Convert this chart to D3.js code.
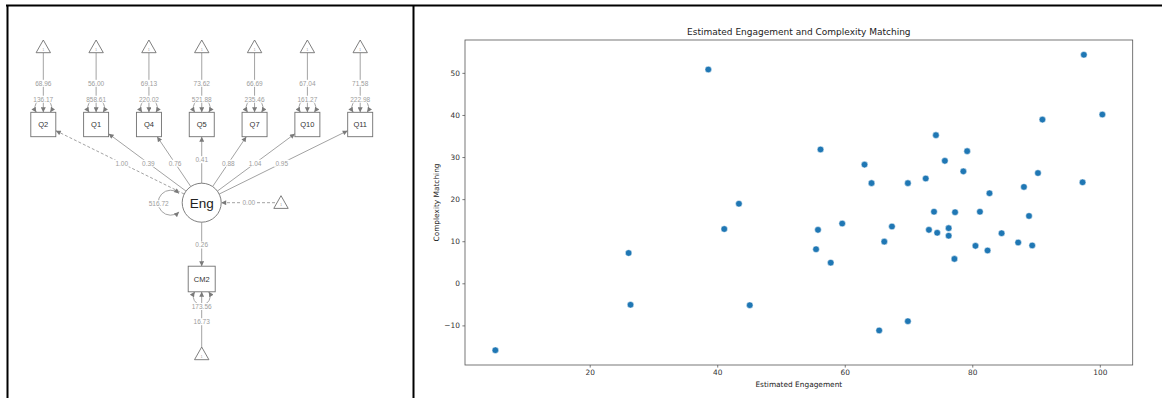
<!DOCTYPE html>
<html>
<head>
<meta charset="utf-8">
<script src="https://cdn.jsdelivr.net/npm/d3@7"></script>
<style>
  body { margin: 0; background: #fff; }
  svg { display: block; }
</style>
</head>
<body>
<div id="chart"></div>
<script>
// ---- path diagram values ----
var items = ["Q2", "Q1", "Q4", "Q5", "Q7", "Q10", "Q11"];
var intercepts = [68.96, 56.00, 69.13, 73.62, 66.69, 67.04, 71.58];
var residuals = [136.17, 858.61, 220.02, 521.88, 235.46, 161.27, 222.98];
var loadings = [1.00, 0.39, 0.76, 0.41, 0.88, 1.04, 0.95];
var engVariance = 516.72, engMean = 0.00, engToCM2 = 0.26;
var cm2Residual = 173.56, cm2Intercept = 16.73;

// ---- scatter values ----
var engagement = [5.2, 26.1, 26.4, 38.6, 41.1, 43.4, 45.1, 55.5, 55.8, 56.2, 57.8, 59.6, 63.1, 64.2, 65.4,
  66.2, 67.4, 69.9, 69.9, 72.7, 73.2, 74.0, 74.3, 74.5, 75.7, 76.3, 76.3, 77.2, 77.3, 78.6,
  79.2, 80.5, 81.2, 82.4, 82.7, 84.6, 87.2, 88.1, 88.9, 89.4, 90.3, 91.0, 97.3, 97.5, 100.4];
var complexity = [-15.9, 7.2, -5.1, 50.8, 12.9, 18.9, -5.2, 8.1, 12.7, 31.8, 4.9, 14.2, 28.2, 23.8, -11.2,
  9.9, 13.5, 23.8, -9.0, 24.9, 12.7, 17.0, 35.2, 12.0, 29.1, 13.1, 11.3, 5.8, 16.9, 26.6,
  31.4, 8.9, 17.0, 7.8, 21.4, 11.9, 9.7, 22.9, 16.0, 9.0, 26.2, 38.9, 24.0, 54.3, 40.1];
var xTicks = [20, 40, 60, 80, 100];
var yTicks = [-10, 0, 10, 20, 30, 40, 50];

var fmt = d3.format(".2f");
var edgeCol = "#a3a3a3", labelCol = "#9c9c9c", nodeCol = "#707070";

var svg = d3.select("#chart")
  .append("svg")
  .attr("width", 1162)
  .attr("height", 398);

svg.append("rect").attr("width", 1162).attr("height", 398).attr("fill", "#fff");

// frame of the two panels
svg.append("line").attr("x1", 6).attr("x2", 1162).attr("y1", 5.5).attr("y2", 5.5)
  .attr("stroke", "#000").attr("stroke-width", 2);
svg.append("line").attr("x1", 7.5).attr("x2", 7.5).attr("y1", 5).attr("y2", 398)
  .attr("stroke", "#000").attr("stroke-width", 2);
svg.append("line").attr("x1", 413.5).attr("x2", 413.5).attr("y1", 5).attr("y2", 398)
  .attr("stroke", "#000").attr("stroke-width", 2);

// arrow head
svg.append("defs").append("marker")
  .attr("id", "head")
  .attr("viewBox", "0 0 10 10")
  .attr("refX", 10).attr("refY", 5)
  .attr("markerUnits", "userSpaceOnUse")
  .attr("markerWidth", 6).attr("markerHeight", 5)
  .attr("orient", "auto-start-reverse")
  .append("path")
  .attr("d", "M0,0 L10,5 L0,10 z")
  .attr("fill", "#7a7a7a");

// ================= left: path diagram =================
var sem = svg.append("g");

var xItem = d3.scalePoint().domain(items).range([43.3, 360.2]);
var boxW = 25, boxH = 24.4, boxY = 124.5;
var triY = 46.5, eng = { x: 201.7, y: 202.7, r: 19.5 };
var cm2 = { x: 201.7, y: 279, w: 27, h: 25.6 };

function triangle(g, cx, cy) {
  g.append("path")
    .attr("d", "M" + cx + "," + (cy - 6.5) + " L" + (cx + 7.2) + "," + (cy + 6.2) + " L" + (cx - 7.2) + "," + (cy + 6.2) + " Z")
    .attr("fill", "#fff").attr("stroke", nodeCol).attr("stroke-width", 0.9);
  g.append("text").attr("x", cx).attr("y", cy + 4).attr("text-anchor", "middle")
    .style("font", "3px 'Liberation Sans', Arial").attr("fill", "#888").text("1");
}

function edgeLabel(g, x, y, txt) {
  var t = g.append("text").attr("x", x).attr("y", y + 2.3)
    .attr("text-anchor", "middle")
    .style("font", "6.5px 'Liberation Sans', Arial")
    .attr("fill", labelCol).text(txt);
  var w = txt.length * 3.6 + 1;
  g.insert("rect", function () { return t.node(); })
    .attr("x", x - w / 2).attr("y", y - 3.5).attr("width", w).attr("height", 7)
    .attr("fill", "#fff");
}

// point where the line from a box centre toward (tx,ty) leaves the box
function boxEdge(cx, cy, hw, hh, tx, ty) {
  var dx = tx - cx, dy = ty - cy;
  var s = Math.min(hw / Math.abs(dx || 1e-9), hh / Math.abs(dy || 1e-9));
  return [cx + dx * s, cy + dy * s];
}

// loadings: Eng -> items
items.forEach(function (q, i) {
  var cx = xItem(q);
  var end = boxEdge(cx, boxY, boxW / 2, boxH / 2, eng.x, eng.y);
  var ang = Math.atan2(boxY - eng.y, cx - eng.x);
  var start = [eng.x + eng.r * Math.cos(ang), eng.y + eng.r * Math.sin(ang)];
  sem.append("line")
    .attr("x1", start[0]).attr("y1", start[1])
    .attr("x2", end[0]).attr("y2", end[1])
    .attr("stroke", edgeCol).attr("stroke-width", 1)
    .attr("stroke-dasharray", i === 0 ? "3,2" : null)
    .attr("marker-end", "url(#head)");
});
items.forEach(function (q, i) {
  var cx = xItem(q);
  var t = i === 3 ? 0.55 : 0.505;
  edgeLabel(sem, eng.x + (cx - eng.x) * t, eng.y + (boxY - eng.y) * t, fmt(loadings[i]));
});

// intercept triangles, residual loops and boxes for items
items.forEach(function (q, i) {
  var cx = xItem(q);
  var top = boxY - boxH / 2;
  sem.append("line")
    .attr("x1", cx).attr("y1", triY + 6.2)
    .attr("x2", cx).attr("y2", top)
    .attr("stroke", edgeCol).attr("marker-end", "url(#head)");
  triangle(sem, cx, triY);
  sem.append("path")
    .attr("d", "M" + (cx - 7) + "," + top + " A8.4,8.4 0 1,1 " + (cx + 7) + "," + top)
    .attr("fill", "none").attr("stroke", edgeCol)
    .attr("marker-start", "url(#head)").attr("marker-end", "url(#head)");
  edgeLabel(sem, cx, 83.3, fmt(intercepts[i]));
  edgeLabel(sem, cx, 99.2, fmt(residuals[i]));
  sem.append("rect")
    .attr("x", cx - boxW / 2).attr("y", top).attr("width", boxW).attr("height", boxH)
    .attr("fill", "#fff").attr("stroke", nodeCol).attr("stroke-width", 0.9);
  sem.append("text").attr("x", cx).attr("y", boxY + 2.6).attr("text-anchor", "middle")
    .style("font", "7.5px 'Liberation Sans', Arial").attr("fill", "#333").text(q);
});

// Eng variance loop
var lc = { x: eng.x - 31, y: eng.y, r: 12.5 };
var a0 = -48 * Math.PI / 180;
sem.append("path")
  .attr("d", "M" + (lc.x + lc.r * Math.cos(a0)) + "," + (lc.y + lc.r * Math.sin(a0)) +
    " A" + lc.r + "," + lc.r + " 0 1,0 " + (lc.x + lc.r * Math.cos(-a0)) + "," + (lc.y + lc.r * Math.sin(-a0)))
  .attr("fill", "none").attr("stroke", edgeCol)
  .attr("marker-start", "url(#head)").attr("marker-end", "url(#head)");
edgeLabel(sem, lc.x - lc.r + 0.5, eng.y + 1, fmt(engVariance));

// mean of Eng
sem.append("line")
  .attr("x1", 275).attr("y1", eng.y)
  .attr("x2", eng.x + eng.r).attr("y2", eng.y)
  .attr("stroke", edgeCol).attr("stroke-dasharray", "3,2")
  .attr("marker-end", "url(#head)");
triangle(sem, 281, eng.y - 0.5);
edgeLabel(sem, 248.8, eng.y, fmt(engMean));

// Eng -> CM2
sem.append("line")
  .attr("x1", eng.x).attr("y1", eng.y + eng.r)
  .attr("x2", cm2.x).attr("y2", cm2.y - cm2.h / 2)
  .attr("stroke", edgeCol).attr("marker-end", "url(#head)");
edgeLabel(sem, eng.x, 245, fmt(engToCM2));

sem.append("circle")
  .attr("cx", eng.x).attr("cy", eng.y).attr("r", eng.r)
  .attr("fill", "#fff").attr("stroke", nodeCol).attr("stroke-width", 0.9);
sem.append("text").attr("x", eng.x).attr("y", eng.y + 4.8).attr("text-anchor", "middle")
  .style("font", "13.5px 'Liberation Sans', Arial").attr("fill", "#222").text("Eng");

// CM2 intercept and residual
var cmBottom = cm2.y + cm2.h / 2;
sem.append("line")
  .attr("x1", cm2.x).attr("y1", 347)
  .attr("x2", cm2.x).attr("y2", cmBottom)
  .attr("stroke", edgeCol).attr("marker-end", "url(#head)");
triangle(sem, cm2.x, 353.5);
sem.append("path")
  .attr("d", "M" + (cm2.x - 7) + "," + cmBottom + " A8.4,8.4 0 1,0 " + (cm2.x + 7) + "," + cmBottom)
  .attr("fill", "none").attr("stroke", edgeCol)
  .attr("marker-start", "url(#head)").attr("marker-end", "url(#head)");
edgeLabel(sem, cm2.x, 306.5, fmt(cm2Residual));
edgeLabel(sem, cm2.x, 321.7, fmt(cm2Intercept));
sem.append("rect")
  .attr("x", cm2.x - cm2.w / 2).attr("y", cm2.y - cm2.h / 2).attr("width", cm2.w).attr("height", cm2.h)
  .attr("fill", "#fff").attr("stroke", nodeCol).attr("stroke-width", 0.9);
sem.append("text").attr("x", cm2.x).attr("y", cm2.y + 2.6).attr("text-anchor", "middle")
  .style("font", "7.5px 'Liberation Sans', Arial").attr("fill", "#333").text("CM2");

// ================= right: scatter plot =================
var margin = { top: 40, right: 29.3, bottom: 33, left: 465 },
    width = 1162 - margin.left - margin.right,
    height = 398 - margin.top - margin.bottom;

var plot = svg.append("g")
  .attr("transform", "translate(" + margin.left + "," + margin.top + ")");

var xExt = d3.extent(engagement), yExt = d3.extent(complexity);
var xPad = (xExt[1] - xExt[0]) * 0.05, yPad = (yExt[1] - yExt[0]) * 0.05;

var x = d3.scaleLinear()
  .domain([xExt[0] - xPad, xExt[1] + xPad])
  .range([0, width]);
var y = d3.scaleLinear()
  .domain([yExt[0] - yPad, yExt[1] + yPad])
  .range([height, 0]);

var tickFont = "7.4px 'DejaVu Sans', sans-serif";

var xAxis = plot.append("g")
  .attr("transform", "translate(0," + height + ")")
  .call(d3.axisBottom(x).tickValues(xTicks).tickSize(2.6).tickPadding(2.5));
var yAxis = plot.append("g")
  .call(d3.axisLeft(y).tickValues(yTicks).tickSize(2.6).tickPadding(2.5)
    .tickFormat(function (d) { return d < 0 ? "\u2212" + Math.abs(d) : d; }));
[xAxis, yAxis].forEach(function (a) {
  a.select(".domain").remove();
  a.selectAll("line").attr("stroke", "#444").attr("stroke-width", 0.7);
  a.selectAll("text").style("font", tickFont).attr("fill", "#333");
});

plot.append("rect")
  .attr("width", width).attr("height", height)
  .attr("fill", "none").attr("stroke", "#555").attr("stroke-width", 0.8);

plot.selectAll("circle.dot")
  .data(engagement.map(function (d, i) { return { x: d, y: complexity[i] }; }))
  .enter()
  .append("circle")
  .attr("class", "dot")
  .attr("cx", function (d) { return x(d.x); })
  .attr("cy", function (d) { return y(d.y); })
  .attr("r", 3.3)
  .attr("fill", "#1f77b4")
  .attr("stroke", "#fff")
  .attr("stroke-width", 0.5);

plot.append("text")
  .attr("x", width / 2).attr("y", -5.5)
  .attr("text-anchor", "middle")
  .style("font", "9px 'DejaVu Sans', sans-serif").attr("fill", "#222")
  .text("Estimated Engagement and Complexity Matching");

plot.append("text")
  .attr("x", width / 2).attr("y", height + 22)
  .attr("text-anchor", "middle")
  .style("font", tickFont).attr("fill", "#222")
  .text("Estimated Engagement");

plot.append("text")
  .attr("transform", "translate(" + (-26.5) + "," + (height / 2) + ") rotate(-90)")
  .attr("text-anchor", "middle")
  .style("font", tickFont).attr("fill", "#222")
  .text("Complexity Matching");
</script>
</body>
</html>
